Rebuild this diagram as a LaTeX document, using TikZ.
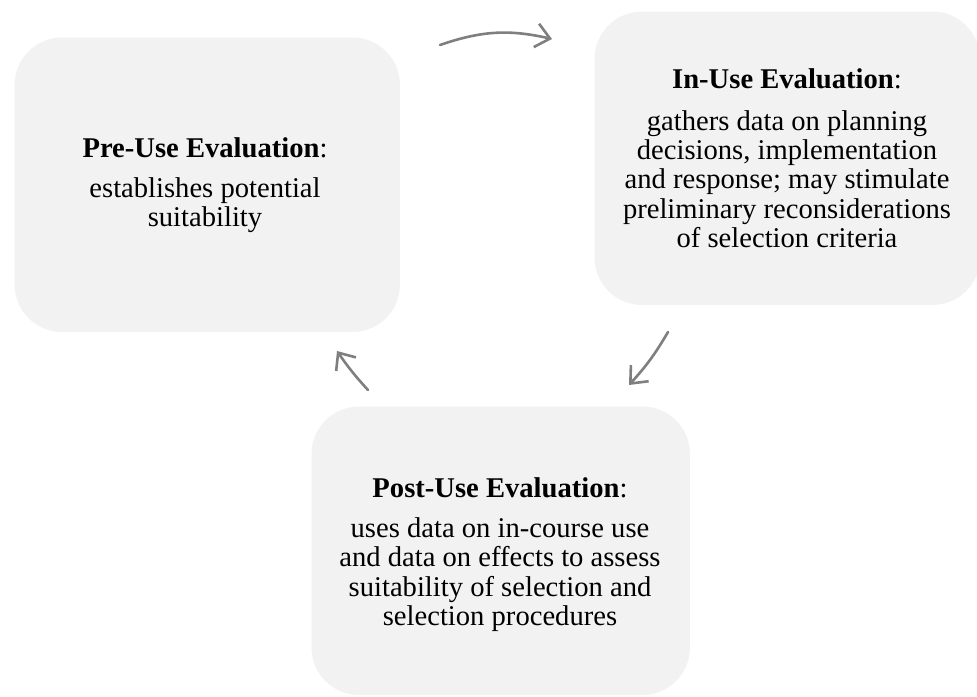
\documentclass[tikz,border=0pt]{standalone}
\usepackage{fontspec}
\setmainfont{Liberation Serif}
\usetikzlibrary{arrows.meta}

\definecolor{panelfill}{HTML}{F2F2F2}
\definecolor{cyclegray}{HTML}{7F7F7F}

\tikzset{
  x=1pt, y=-1pt,
  panel/.style={rectangle, fill=panelfill, draw=white, line width=1.5pt,
    rounded corners=48pt, anchor=north west, inner sep=0pt},
  txt/.style={anchor=base, inner sep=0pt, font=\fontsize{28.6}{29}\selectfont},
  cyclearrow/.style={draw=cyclegray, line width=2.6pt, line cap=round,
    -{Straight Barb[length=14pt, width=24pt, line width=2.6pt]}}
}

\begin{document}
\begin{tikzpicture}
  \useasboundingbox (0,0) rectangle (977,696);

  % the three stage panels
  \node[panel, minimum width=387pt, minimum height=296pt] (pre)  at (13,36) {};
  \node[panel, minimum width=387pt, minimum height=295pt] (in)   at (593,10) {};
  \node[panel, minimum width=380pt, minimum height=290pt] (post) at (310,405) {};

  % Pre-Use text
  \node[txt] (preT)  at (205,157) {\textbf{Pre-Use Evaluation}:};
  \node[txt] (preL1) at (205,197) {establishes potential};
  \node[txt] (preL2) at (205,226) {suitability};

  % In-Use text
  \node[txt] (inT)  at (787,88)  {\textbf{In-Use Evaluation}:};
  \node[txt] (inL1) at (787,130) {gathers data on planning};
  \node[txt] (inL2) at (787,159) {decisions, implementation};
  \node[txt] (inL3) at (787,188) {and response; may stimulate};
  \node[txt] (inL4) at (787,218) {preliminary reconsiderations};
  \node[txt] (inL5) at (787,247) {of selection criteria};

  % Post-Use text
  \node[txt] (postT)  at (500,497) {\textbf{Post-Use Evaluation}:};
  \node[txt] (postL1) at (500,537) {uses data on in-course use};
  \node[txt] (postL2) at (500,566) {and data on effects to assess};
  \node[txt] (postL3) at (500,596) {suitability of selection and};
  \node[txt] (postL4) at (500,625) {selection procedures};

  % cycle arrows
  \coordinate (aS) at (440,45);  \coordinate (aE) at (552,39);
  \coordinate (bS) at (668,332); \coordinate (bE) at (629,385);
  \coordinate (cS) at (368,390); \coordinate (cE) at (337,351);
  \draw[cyclearrow] (aS) to[bend left=16] (aE);
  \draw[cyclearrow] (bS) to[bend left=6] (bE);
  \draw[cyclearrow] (cS) to[bend left=4] (cE);
\end{tikzpicture}
\end{document}
